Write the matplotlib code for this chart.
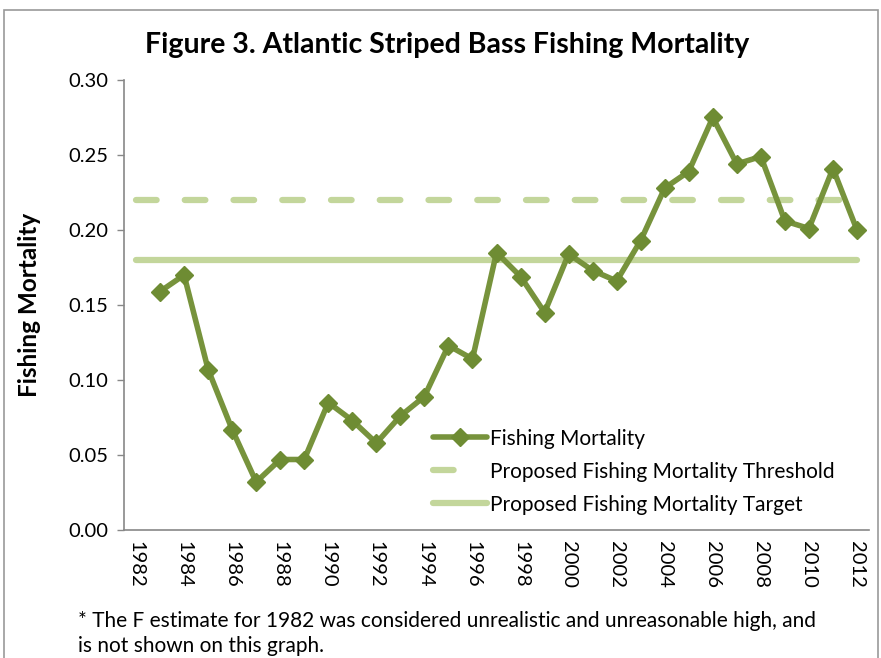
import matplotlib
matplotlib.use('Agg')
import matplotlib.pyplot as plt
from matplotlib.lines import Line2D
from matplotlib.patches import Rectangle

plt.rcParams['font.family'] = ['Lato', 'DejaVu Sans']

years = list(range(1983, 2013))
fishing_mortality = [0.159, 0.170, 0.107, 0.067, 0.032, 0.047, 0.047, 0.085, 0.073, 0.058,
                     0.076, 0.089, 0.123, 0.114, 0.185, 0.169, 0.145, 0.184, 0.173, 0.166,
                     0.193, 0.228, 0.239, 0.275, 0.244, 0.249, 0.206, 0.201, 0.241, 0.200]
line_years = [1982, 2012]
threshold = 0.22
target = 0.18
tick_years = list(range(1982, 2013, 2))
y_ticks = [0.00, 0.05, 0.10, 0.15, 0.20, 0.25, 0.30]

W, H = 881, 658
fig = plt.figure(figsize=(W / 100, H / 100), dpi=100)
ax = fig.add_axes([124 / W, 1 - 530 / H, (869 - 124) / W, (530 - 80) / H])

dark = '#77933C'
light = '#C3D69B'

ax.plot(line_years, [threshold, threshold], color=light, lw=4.5, ls=(0, (3.3, 4.5)),
        solid_capstyle='round', dash_capstyle='round', zorder=2)
h_target, = ax.plot(line_years, [target, target], color=light, lw=4.5, solid_capstyle='round',
                    zorder=2)
h_fm, = ax.plot(years, fishing_mortality, color=dark, lw=4, marker='D', markersize=9.5,
                markerfacecolor='#6E8C33', markeredgecolor='#6E8C33', solid_capstyle='round',
                zorder=3)
# legend shows the threshold as one short dash
h_thr = Line2D([], [], color=light, lw=4.5, ls=(0, (3.3, 20)), dash_capstyle='round')

ax.set_xlim(1981.5, 2012.5)
ax.set_ylim(0, 0.30)
ax.set_yticks(y_ticks)
ax.set_yticklabels([f'{v:.2f}' for v in y_ticks], fontsize=14.5)
ax.set_xticks(tick_years)
ax.set_xticklabels([str(y) for y in tick_years], rotation=270, fontsize=14.5)
ax.tick_params(axis='x', length=0, pad=8)
ax.tick_params(axis='y', length=5, color='#888888', width=1, pad=6)

for s in ['top', 'right']:
    ax.spines[s].set_visible(False)
for s in ['left', 'bottom']:
    ax.spines[s].set_color('#888888')
    ax.spines[s].set_linewidth(1.2)

ax.set_ylabel('Fishing Mortality', fontsize=17.5, fontweight='bold', labelpad=20)
fig.text(447 / W, 1 - 45 / H, 'Figure 3. Atlantic Striped Bass Fishing Mortality',
         ha='center', va='center', fontsize=20.5, fontweight='bold')

ax.legend([h_fm, h_thr, h_target],
          ['Fishing Mortality', 'Proposed Fishing Mortality Threshold',
           'Proposed Fishing Mortality Target'],
          loc='upper left', bbox_to_anchor=(0.415, 0.225), frameon=False,
          fontsize=15, handlelength=2.6, handletextpad=0.15, labelspacing=0.62,
          borderaxespad=0, borderpad=0)

fig.text(78 / W, 1 - 621 / H,
         '* The F estimate for 1982 was considered unrealistic and unreasonable high, and',
         ha='left', va='center', fontsize=15)
fig.text(78 / W, 1 - 646 / H, 'is not shown on this graph.',
         ha='left', va='center', fontsize=15)

fig.patches.append(Rectangle((4 / W, -0.1), (878 - 4) / W, 1.1 - 10 / H,
                             transform=fig.transFigure, fill=False,
                             edgecolor='#999999', lw=1.2))

fig.savefig('out.png', dpi=100)
